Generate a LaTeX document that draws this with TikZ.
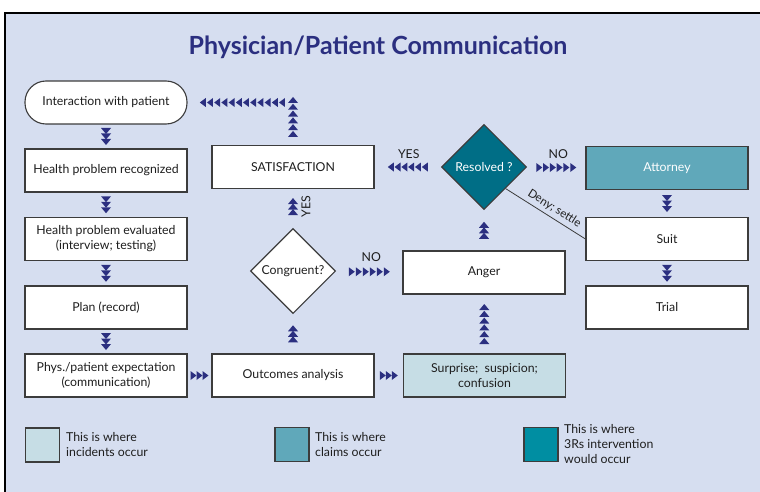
\documentclass[tikz,border=0pt]{standalone}
\usepackage{fontspec}
\setmainfont{Lato}
\usetikzlibrary{shapes.geometric,calc}
\definecolor{bgc}{RGB}{214,222,240}
\definecolor{navy}{RGB}{43,47,128}
\definecolor{incid}{RGB}{198,221,229}
\definecolor{claim}{RGB}{96,168,186}
\definecolor{rrr}{RGB}{0,142,162}
\definecolor{resc}{RGB}{0,110,134}
\definecolor{edgec}{RGB}{60,60,60}
\definecolor{txt}{RGB}{30,30,30}
\newcommand{\fs}{\fontsize{12.3}{15}\selectfont}
\tikzset{
  box/.style={draw=edgec, line width=1.1pt, fill=white, minimum width=162pt,
    minimum height=43pt, inner sep=2pt, align=center, font=\fs, text=txt},
  dia/.style={diamond, draw=edgec, line width=1.1pt, minimum width=85pt,
    minimum height=85pt, inner sep=0pt, aspect=1, font=\fs, text=txt, fill=white},
  lbl/.style={font=\fs, text=txt, inner sep=1pt},
  legsq/.style={draw=edgec, line width=1.1pt, minimum size=34pt, inner sep=0pt},
  legtx/.style={font=\fs, text=txt, align=left, anchor=west, inner sep=0pt},
  pics/tdown/.style 2 args={code={\foreach \i in {1,...,#1}{\pgfmathsetmacro\o{(\i-(#1+1)/2)*#2}
      \fill[navy,shift={(0,\o)}] (-5,-3)--(5,-3)--(0,3)--cycle;}}},
  pics/tup/.style 2 args={code={\foreach \i in {1,...,#1}{\pgfmathsetmacro\o{(\i-(#1+1)/2)*#2}
      \fill[navy,shift={(0,\o)}] (-5,3)--(5,3)--(0,-3)--cycle;}}},
  pics/tright/.style 2 args={code={\foreach \i in {1,...,#1}{\pgfmathsetmacro\o{(\i-(#1+1)/2)*#2}
      \fill[navy,shift={(\o,0)}] (-3,-4.5)--(-3,4.5)--(3,0)--cycle;}}},
  pics/tleft/.style 2 args={code={\foreach \i in {1,...,#1}{\pgfmathsetmacro\o{(\i-(#1+1)/2)*#2}
      \fill[navy,shift={(\o,0)}] (3,-4.5)--(3,4.5)--(-3,0)--cycle;}}},
}
\begin{document}
\begin{tikzpicture}[x=1pt,y=-1pt]
\useasboundingbox (0,0) rectangle (760,492);
\fill[white] (0,0) rectangle (760,492);
\fill[bgc] (5,13) rectangle (762,494);
\draw[black, line width=2pt] (5,494) -- (5,13) -- (762,13);

\node[font=\fontsize{25}{28}\selectfont\bfseries, text=navy] (title) at (378,47) {Physician/Patient Communication};

% left column
\node[box, rounded corners=21pt] (inter) at (106,102.5) {Interaction with patient};
\node[box] (hpr) at (106,170.5) {Health problem recognized};
\node[box] (hpe) at (106,239) {Health problem evaluated\\(interview; testing)};
\node[box] (plan) at (106,307.5) {Plan (record)};
\node[box] (phys) at (106,375.5) {Phys./patient expectation\\(communication)};

% middle column
\node[box] (sat) at (293,167) {SATISFACTION};
\node[dia] (cong) at (293,271) {Congruent?};
\node[box] (outc) at (293,375.5) {Outcomes analysis};

% right-middle column
\node[dia, fill=resc, text=white] (res) at (484,167) {Resolved ?};
\node[box] (anger) at (484,272.5) {Anger};
\node[box, fill=incid] (surp) at (484.5,375.5) {Surprise;\ \ suspicion;\\confusion};

% right column
\node[box, fill=claim, text=white] (att) at (667,168) {Attorney};
\node[box] (suit) at (667,239) {Suit};
\node[box] (trial) at (667,307.5) {Trial};

% chains
\pic at ($(inter.south)!0.5!(hpr.north)$) {tdown={3}{5.5}};
\pic at ($(hpr.south)!0.5!(hpe.north)$) {tdown={3}{5.5}};
\pic at ($(hpe.south)!0.5!(plan.north)$) {tdown={3}{5.5}};
\pic at ($(plan.south)!0.5!(phys.north)$) {tdown={3}{5.5}};
\pic at ($(phys.east)!0.5!(outc.west)$) {tright={3}{6}};
\pic at ($(outc.east)!0.5!(surp.west)$) {tright={3}{6}};
\pic at ($(outc.north)!0.5!(cong.south)$) {tup={3}{5.5}};
\pic at ($(cong.north)!0.55!(sat.south)$) {tup={3}{5.5}};
\node[lbl, rotate=90] (yes1) at ($(cong.north)!0.55!(sat.south)+(13,0)$) {YES};
\pic at ($(cong.east)!0.5!(anger.west)$) {tright={6}{7}};
\node[lbl] (no1) at ($(cong.east)!0.5!(anger.west)+(2,-15)$) {NO};
\pic at ($(surp.north)!0.5!(anger.south)$) {tup={6}{6.8}};
\pic at ($(anger.north)!0.5!(res.south)$) {tup={3}{5.5}};
\pic at ($(sat.east)!0.5!(res.west)$) {tleft={6}{6.8}};
\node[lbl] (yes2) at ($(sat.east)!0.5!(res.west)+(1,-13)$) {YES};
\pic at ($(res.east)!0.5!(att.west)$) {tright={6}{6.8}};
\node[lbl] (no2) at ($(res.east)!0.5!(att.west)+(2,-13)$) {NO};
\pic at ($(att.south)!0.5!(suit.north)$) {tdown={3}{5.5}};
\pic at ($(suit.south)!0.5!(trial.north)$) {tdown={3}{5.5}};
% back to start
\coordinate (turn) at (sat.north |- inter.east);
\pic at ($(sat.north)+(0,-28)$) {tup={6}{6.8}};
\pic at ($(inter.east)!0.52!(turn)$) {tleft={12}{7.2}};

% deny; settle
\draw[edgec, line width=0.8pt] (res.south east) -- node[sloped, above, pos=0.55, font=\fontsize{11.5}{13}\selectfont, text=txt, inner sep=3.5pt] {Deny; settle} (suit.west);

% legend
\node[legsq, fill=incid] (l1) at (42.5,445) {};
\node[legtx] (t1) at (66,444.5) {This is where\\incidents occur};
\node[legsq, fill=claim] (l2) at (292,444.5) {};
\node[legtx] (t2) at (315,444.5) {This is where\\claims occur};
\node[legsq, fill=rrr] (l3) at (541,444.5) {};
\node[legtx] (t3) at (564,444.5) {This is where\\3Rs intervention\\would occur};
\end{tikzpicture}
\end{document}
